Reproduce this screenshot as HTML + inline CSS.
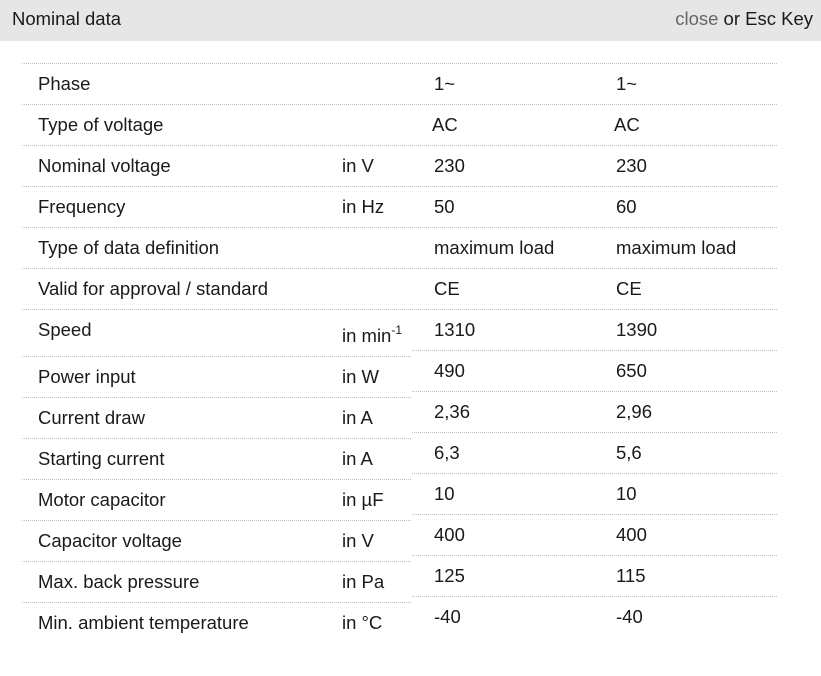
<!DOCTYPE html>
<html><head><meta charset="utf-8"><style>
html,body{margin:0;padding:0;background:#fff;width:821px;height:676px;overflow:hidden;position:relative;font-family:"Liberation Sans",Arial,sans-serif;color:#1a1a1a}
.hdr{position:absolute;left:0;top:0;width:821px;height:41px;background:#e6e6e6}
.t{position:absolute;font-size:18.5px;line-height:20px;white-space:nowrap}
.l{position:absolute;height:0;border-top:1px dotted #b8bec4}
sup{font-size:12px;line-height:0;position:relative;top:-1px}
</style></head><body>
<div class="hdr"></div>
<div class="t" style="left:12px;top:9px">Nominal data</div>
<div class="t" style="right:8px;top:9px"><span style="color:#666">close</span> or Esc Key</div>

<div class="l" style="left:22px;top:63px;width:755px"></div>
<div class="l" style="left:22px;top:104px;width:755px"></div>
<div class="l" style="left:22px;top:145px;width:755px"></div>
<div class="l" style="left:22px;top:186px;width:755px"></div>
<div class="l" style="left:22px;top:227px;width:755px"></div>
<div class="l" style="left:22px;top:268px;width:755px"></div>
<div class="l" style="left:22px;top:309px;width:755px"></div>

<div class="l" style="left:22px;top:356px;width:389px"></div>
<div class="l" style="left:22px;top:397px;width:389px"></div>
<div class="l" style="left:22px;top:438px;width:389px"></div>
<div class="l" style="left:22px;top:479px;width:389px"></div>
<div class="l" style="left:22px;top:520px;width:389px"></div>
<div class="l" style="left:22px;top:561px;width:389px"></div>
<div class="l" style="left:22px;top:602px;width:389px"></div>

<div class="l" style="left:412px;top:350px;width:365px"></div>
<div class="l" style="left:412px;top:391px;width:365px"></div>
<div class="l" style="left:412px;top:432px;width:365px"></div>
<div class="l" style="left:412px;top:473px;width:365px"></div>
<div class="l" style="left:412px;top:514px;width:365px"></div>
<div class="l" style="left:412px;top:555px;width:365px"></div>
<div class="l" style="left:412px;top:596px;width:365px"></div>

<div class="t" style="left:38px;top:74px">Phase</div>
<div class="t" style="left:434px;top:74px">1~</div>
<div class="t" style="left:616px;top:74px">1~</div>

<div class="t" style="left:38px;top:115px">Type of voltage</div>
<div class="t" style="left:432px;top:115px">AC</div>
<div class="t" style="left:614px;top:115px">AC</div>

<div class="t" style="left:38px;top:156px">Nominal voltage</div>
<div class="t" style="left:342px;top:156px">in V</div>
<div class="t" style="left:434px;top:156px">230</div>
<div class="t" style="left:616px;top:156px">230</div>

<div class="t" style="left:38px;top:197px">Frequency</div>
<div class="t" style="left:342px;top:197px">in Hz</div>
<div class="t" style="left:434px;top:197px">50</div>
<div class="t" style="left:616px;top:197px">60</div>

<div class="t" style="left:38px;top:238px">Type of data definition</div>
<div class="t" style="left:434px;top:238px">maximum load</div>
<div class="t" style="left:616px;top:238px">maximum load</div>

<div class="t" style="left:38px;top:279px">Valid for approval / standard</div>
<div class="t" style="left:434px;top:279px">CE</div>
<div class="t" style="left:616px;top:279px">CE</div>

<div class="t" style="left:38px;top:320px">Speed</div>
<div class="t" style="left:342px;top:326px">in min<sup>-1</sup></div>
<div class="t" style="left:434px;top:320px">1310</div>
<div class="t" style="left:616px;top:320px">1390</div>

<div class="t" style="left:38px;top:367px">Power input</div>
<div class="t" style="left:342px;top:367px">in W</div>
<div class="t" style="left:434px;top:361px">490</div>
<div class="t" style="left:616px;top:361px">650</div>

<div class="t" style="left:38px;top:408px">Current draw</div>
<div class="t" style="left:342px;top:408px">in A</div>
<div class="t" style="left:434px;top:402px">2,36</div>
<div class="t" style="left:616px;top:402px">2,96</div>

<div class="t" style="left:38px;top:449px">Starting current</div>
<div class="t" style="left:342px;top:449px">in A</div>
<div class="t" style="left:434px;top:443px">6,3</div>
<div class="t" style="left:616px;top:443px">5,6</div>

<div class="t" style="left:38px;top:490px">Motor capacitor</div>
<div class="t" style="left:342px;top:490px">in µF</div>
<div class="t" style="left:434px;top:484px">10</div>
<div class="t" style="left:616px;top:484px">10</div>

<div class="t" style="left:38px;top:531px">Capacitor voltage</div>
<div class="t" style="left:342px;top:531px">in V</div>
<div class="t" style="left:434px;top:525px">400</div>
<div class="t" style="left:616px;top:525px">400</div>

<div class="t" style="left:38px;top:572px">Max. back pressure</div>
<div class="t" style="left:342px;top:572px">in Pa</div>
<div class="t" style="left:434px;top:566px">125</div>
<div class="t" style="left:616px;top:566px">115</div>

<div class="t" style="left:38px;top:613px">Min. ambient temperature</div>
<div class="t" style="left:342px;top:613px">in °C</div>
<div class="t" style="left:434px;top:607px">-40</div>
<div class="t" style="left:616px;top:607px">-40</div>
</body></html>
